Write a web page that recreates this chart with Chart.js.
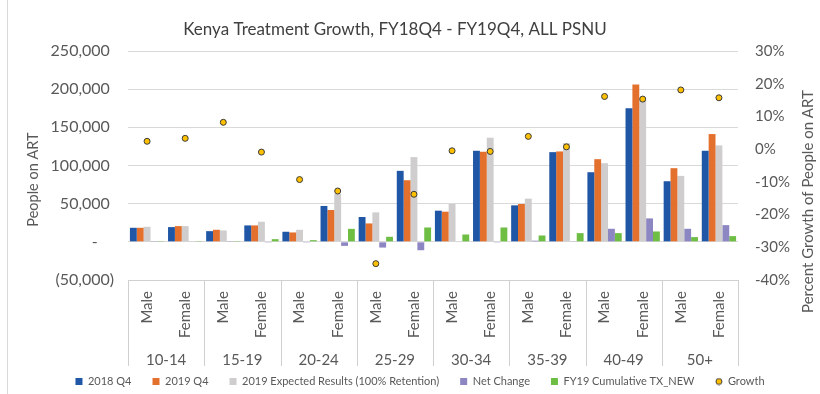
<!DOCTYPE html>
<html>
<head>
<meta charset="utf-8">
<title>Kenya Treatment Growth</title>
<script src="https://cdn.jsdelivr.net/npm/chart.js@4.4.1/dist/chart.umd.min.js"></script>
<style>
  html, body { margin: 0; padding: 0; background: #fff; }
</style>
</head>
<body>
<canvas id="treatmentChart" width="820" height="394"></canvas>
<script>
// age bands, each split into Male / Female
const ageGroups = ['10-14', '15-19', '20-24', '25-29', '30-34', '35-39', '40-49', '50+'];
const sexes = ['Male', 'Female'];
const categories = ageGroups.flatMap(() => sexes);

const art2018Q4 = [18400, 19300, 14000, 21500, 13200, 47000, 32500, 93000, 40800, 119300, 47800, 117500, 91200, 175000, 79400, 119300];
const art2019Q4 = [18400, 20600, 15800, 21500, 12300, 41700, 24100, 80700, 39500, 118000, 49600, 118400, 108300, 206200, 96500, 141200];
const expected2019 = [19700, 20600, 14900, 26300, 15800, 63000, 38600, 111000, 49600, 136400, 56600, 129400, 103000, 186000, 86400, 126300];
const netChange = [300, 600, 1000, -300, -1000, -5300, -7500, -11000, -700, -1000, 1500, 800, 17100, 30700, 17100, 21900];
const txNewCumulative = [300, 300, 300, 3500, 2200, 17000, 6600, 18800, 9600, 18800, 8300, 11400, 11400, 13600, 6200, 7500];
const growthPct = [2.4, 3.3, 8.2, -0.9, -9.3, -12.8, -35, -13.8, -0.5, -0.7, 3.9, 0.7, 16.1, 15.3, 18.1, 15.7];

const TEXT = '#595959';
const GRID = '#D9D9D9';
const FONT = 'Lato';

Chart.defaults.font.family = FONT;
Chart.defaults.color = TEXT;

const accounting = (v) => {
  if (v === 0) return '-    ';
  if (v < 0) return '(' + Math.abs(v).toLocaleString('en-US') + ')';
  return v.toLocaleString('en-US') + ' ';
};

// small round marker for the Growth legend entry
const growthMarker = document.createElement('canvas');
growthMarker.width = 8;
growthMarker.height = 8;
(() => {
  const g = growthMarker.getContext('2d');
  g.beginPath();
  g.arc(4, 4, 3, 0, Math.PI * 2);
  g.fillStyle = '#FFC000';
  g.fill();
  g.strokeStyle = '#3A3A3A';
  g.lineWidth = 1;
  g.stroke();
})();

const drawRotated = (ctx, text, x, y, align) => {
  ctx.save();
  ctx.translate(x, y);
  ctx.rotate(-Math.PI / 2);
  ctx.textAlign = align;
  ctx.fillText(text, 0, 0);
  ctx.restore();
};

// chart title, axis titles, two-level category labels and their box
const chartDecor = {
  id: 'chartDecor',
  afterDraw(chart) {
    const { ctx, chartArea, scales } = chart;
    const sexAxis = scales.x;
    const ageAxis = scales.ageAxis;
    const left = scales.y;
    const right = scales.y1;
    ctx.save();

    // thin frame edge on the left
    ctx.strokeStyle = GRID;
    ctx.lineWidth = 1;
    ctx.beginPath();
    ctx.moveTo(7.5, 0);
    ctx.lineTo(7.5, chart.height);
    ctx.stroke();

    // category box
    const boxBottom = ageAxis.bottom + 11;
    ctx.strokeStyle = '#D0D0D0';
    ctx.beginPath();
    ctx.moveTo(chartArea.left, Math.round(chartArea.bottom) + 0.5);
    ctx.lineTo(chartArea.right, Math.round(chartArea.bottom) + 0.5);
    const step = (ageAxis.right - ageAxis.left) / ageGroups.length;
    for (let i = 0; i <= ageGroups.length; i++) {
      const x = Math.round(ageAxis.left + step * i) + 0.5;
      ctx.moveTo(x, chartArea.bottom);
      ctx.lineTo(x, boxBottom);
    }
    ctx.stroke();

    ctx.fillStyle = TEXT;
    ctx.font = '15px ' + FONT;
    ctx.textBaseline = 'middle';

    // Male / Female, rotated, hanging from the top of the box
    categories.forEach((c, i) => {
      drawRotated(ctx, c, sexAxis.getPixelForValue(i), chartArea.bottom + 11, 'right');
    });

    // age band labels under each pair
    ctx.textAlign = 'center';
    ageGroups.forEach((g, i) => {
      ctx.fillText(g, ageAxis.getPixelForValue(i), sexAxis.bottom + 20);
    });

    // main title
    ctx.fillStyle = '#404040';
    ctx.font = '17px ' + FONT;
    ctx.fillText('Kenya Treatment Growth, FY18Q4 - FY19Q4, ALL PSNU', 395, 30);

    // axis titles, both reading bottom to top
    const midY = (chartArea.top + chartArea.bottom) / 2;
    ctx.fillStyle = TEXT;
    ctx.font = '14.5px ' + FONT;
    drawRotated(ctx, 'People on ART', left.left + 13, midY + 14, 'center');
    ctx.font = '15px ' + FONT;
    drawRotated(ctx, 'Percent Growth of People on ART', right.right - 12, midY + 36, 'center');
    ctx.restore();
  }
};

const barStyle = { order: 1, pointStyle: 'rect', borderWidth: 0 };

new Chart(document.getElementById('treatmentChart'), {
  type: 'bar',
  data: {
    labels: categories,
    datasets: [
      { ...barStyle, label: '2018 Q4', data: art2018Q4, backgroundColor: '#1F56A5' },
      { ...barStyle, label: '2019 Q4', data: art2019Q4, backgroundColor: '#E4702E' },
      { ...barStyle, label: '2019 Expected Results (100% Retention)', data: expected2019, backgroundColor: '#CFCDCD' },
      { ...barStyle, label: 'Net Change', data: netChange, backgroundColor: '#8C86C2' },
      { ...barStyle, label: 'FY19 Cumulative TX_NEW', data: txNewCumulative, backgroundColor: '#6EBE44' },
      {
        type: 'line',
        label: 'Growth',
        data: growthPct,
        yAxisID: 'y1',
        order: 0,
        showLine: false,
        pointStyle: 'circle',
        pointRadius: 3,
        pointBackgroundColor: '#FFC000',
        pointBorderColor: '#3A3A3A',
        pointBorderWidth: 1,
        backgroundColor: '#FFC000',
        borderColor: '#3A3A3A',
        borderWidth: 1
      }
    ]
  },
  options: {
    responsive: false,
    animation: false,
    devicePixelRatio: 1,
    layout: { padding: { left: 20, right: 0, top: 51, bottom: -3 } },
    datasets: {
      bar: { categoryPercentage: 0.9, barPercentage: 1 }
    },
    plugins: {
      title: { display: false },
      tooltip: { enabled: false },
      legend: {
        position: 'bottom',
        labels: {
          usePointStyle: true,
          boxWidth: 7,
          boxHeight: 7,
          padding: 21,
          font: { size: 11 },
          color: TEXT,
          sort: (a, b) => a.datasetIndex - b.datasetIndex,
          generateLabels: (chart) => Chart.defaults.plugins.legend.labels.generateLabels(chart)
            .map((item) => item.datasetIndex === 5 ? { ...item, pointStyle: growthMarker } : item)
        }
      }
    },
    scales: {
      x: {
        position: 'bottom',
        weight: 0,
        grid: { display: false, drawTicks: false },
        border: { display: false },
        ticks: { display: false },
        afterFit: (s) => { s.height = 60; }
      },
      ageAxis: {
        type: 'category',
        labels: ageGroups,
        position: 'bottom',
        weight: 1,
        offset: true,
        grid: { display: false, drawTicks: false },
        border: { display: false },
        ticks: { display: false },
        afterFit: (s) => { s.height = 15; }
      },
      y: {
        position: 'left',
        min: -50000,
        max: 250000,
        ticks: { stepSize: 50000, padding: 14, font: { size: 16 }, callback: accounting },
        grid: { color: GRID, drawTicks: false },
        border: { display: false },
        afterFit: (s) => { s.width = 108; }
      },
      y1: {
        position: 'right',
        min: -40,
        max: 30,
        ticks: { stepSize: 10, padding: 17, font: { size: 15 }, callback: (v) => v + '%' },
        grid: { drawOnChartArea: false, drawTicks: false },
        border: { display: false },
        afterFit: (s) => { s.width = 82; }
      }
    }
  },
  plugins: [chartDecor]
});
</script>
</body>
</html>
